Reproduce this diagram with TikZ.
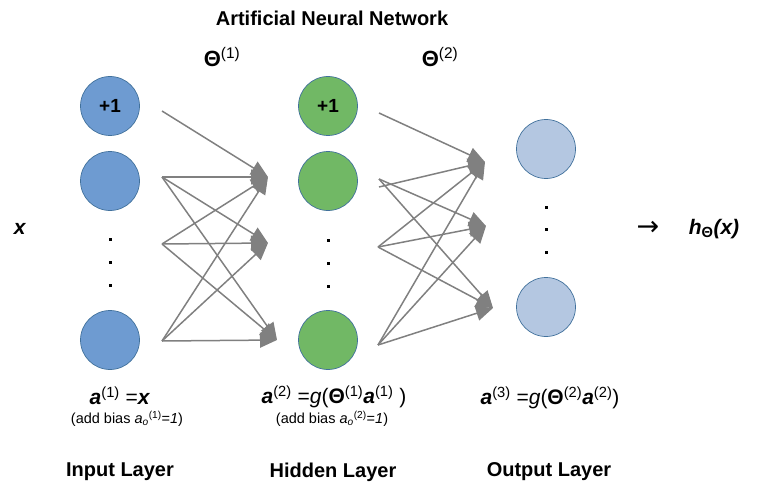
\documentclass[tikz,border=0pt]{standalone}
\usepackage{fontspec}
\setmainfont{Liberation Sans}
\newfontfamily\arrowfont{DejaVu Sans}
\usetikzlibrary{arrows.meta, positioning}
\definecolor{inblue}{RGB}{110,155,209}
\definecolor{hidgreen}{RGB}{113,184,101}
\definecolor{outblue}{RGB}{180,199,225}
\definecolor{rimblue}{RGB}{65,113,156}
\definecolor{wgray}{RGB}{128,128,128}
\newcommand{\bfit}[1]{\textbf{\textit{#1}}}
\newcommand{\sups}[1]{\textsuperscript{\normalfont #1}}
\newcommand{\Thb}{\textbf{Θ}}

\tikzset{
  neuron/.style={circle, draw=rimblue, line width=0.7pt, minimum size=59pt, inner sep=0pt,
    font=\bfseries\fontsize{19}{22}\selectfont},
  dotmark/.style={fill=black, minimum size=3pt, inner sep=0pt},
  weight/.style={draw=wgray, line width=1.5pt, -{Triangle[length=17pt,width=15pt]}},
  bigtext/.style={font=\bfseries\fontsize{20}{24}\selectfont},
  formula/.style={font=\fontsize{21}{25}\selectfont},
  note/.style={font=\fontsize{14.5}{17}\selectfont},
}

\begin{document}
\begin{tikzpicture}[x=1pt, y=-1pt]
\useasboundingbox (0,0) rectangle (765,500);

% neurons
\node [neuron, fill=inblue] (i1) at (110,106) {+1};
\node [neuron, fill=inblue] (i2) at (110,181) {};
\node [neuron, fill=inblue] (i3) at (110,340) {};
\node [neuron, fill=hidgreen] (h1) at (328,106) {+1};
\node [neuron, fill=hidgreen] (h2) at (328,181) {};
\node [neuron, fill=hidgreen] (h3) at (328,340) {};
\node [neuron, fill=outblue] (o1) at (546,149) {};
\node [neuron, fill=outblue] (o2) at (546,307) {};

\node [dotmark] (di1) at (110,239) {};
\node [dotmark] (di2) at (110,262) {};
\node [dotmark] (di3) at (110,285) {};
\node [dotmark] (dh1) at (328,240) {};
\node [dotmark] (dh2) at (328,263) {};
\node [dotmark] (dh3) at (328,286) {};
\node [dotmark] (do1) at (546,207) {};
\node [dotmark] (do2) at (546,229) {};
\node [dotmark] (do3) at (546,252) {};

% arrow ends
\coordinate (p1) at (162,111);
\coordinate (p2) at (162,177);
\coordinate (p3) at (162,244);
\coordinate (p4) at (162,341);
\coordinate (t1) at (268,177);
\coordinate (t2) at (268,243);
\coordinate (t3) at (277,340);

\coordinate (q1) at (379,113);
\coordinate (q2) at (379,187);
\coordinate (q2b) at (379,179);
\coordinate (q3) at (378,247);
\coordinate (q4) at (378,345);
\coordinate (u1) at (485,162);
\coordinate (u2) at (486,226);
\coordinate (u3) at (493,308);

\draw [weight] (p1) -- (t1);
\draw [weight] (p2) -- (t1);
\draw [weight] (p2) -- (t2);
\draw [weight] (p2) -- (t3);
\draw [weight] (p3) -- (t1);
\draw [weight] (p3) -- (t2);
\draw [weight] (p3) -- (t3);
\draw [weight] (p4) -- (t1);
\draw [weight] (p4) -- (t2);
\draw [weight] (p4) -- (t3);

\draw [weight] (q1) -- (u1);
\draw [weight] (q2) -- (u1);
\draw [weight] (q2b) -- (u2);
\draw [weight] (q2b) -- (u3);
\draw [weight] (q3) -- (u1);
\draw [weight] (q3) -- (u2);
\draw [weight] (q3) -- (u3);
\draw [weight] (q4) -- (u1);
\draw [weight] (q4) -- (u2);
\draw [weight] (q4) -- (u3);

% texts
\node [bigtext] (title) at (332,18) {Artificial Neural Network};
\node [font=\fontsize{22}{26}\selectfont] (th1) at (222,57) {\Thb\sups{(1)}};
\node [font=\fontsize{22}{26}\selectfont] (th2) at (440,57) {\Thb\sups{(2)}};
\node [font=\fontsize{21}{25}\selectfont] (xin) at (20,229) {\bfit{x}};
\node [font=\arrowfont\fontsize{27}{30}\selectfont] (arr) at (648,228) {→};
\node [font=\fontsize{21}{25}\selectfont] (hout) at (714,229) {\bfit{h\textsubscript{\textup{Θ}}(x)}};

\node [formula] (f1) at (120,396) {\bfit{a}\sups{(1)} =\bfit{x}};
\node [note] (b1) at (127,419) {(add bias \textit{a}\textsubscript{\textit{o}}\sups{(1)}=\textit{1})};
\node [formula] (f2) at (334,397) {\bfit{a}\sups{(2)} =\textit{g}(\Thb\sups{(1)}\bfit{a}\sups{(1)} )};
\node [note] (b2) at (332,419) {(add bias \textit{a}\textsubscript{\textit{o}}\sups{(2)}=\textit{1})};
\node [formula] (f3) at (550,398) {\bfit{a}\sups{(3)} =\textit{g}(\Thb\sups{(2)}\bfit{a}\sups{(2)})};

\node [bigtext] (l1) at (120,472) {Input Layer};
\node [bigtext] (l2) at (333,472) {Hidden Layer};
\node [bigtext] (l3) at (549,472) {Output Layer};
\end{tikzpicture}
\end{document}
